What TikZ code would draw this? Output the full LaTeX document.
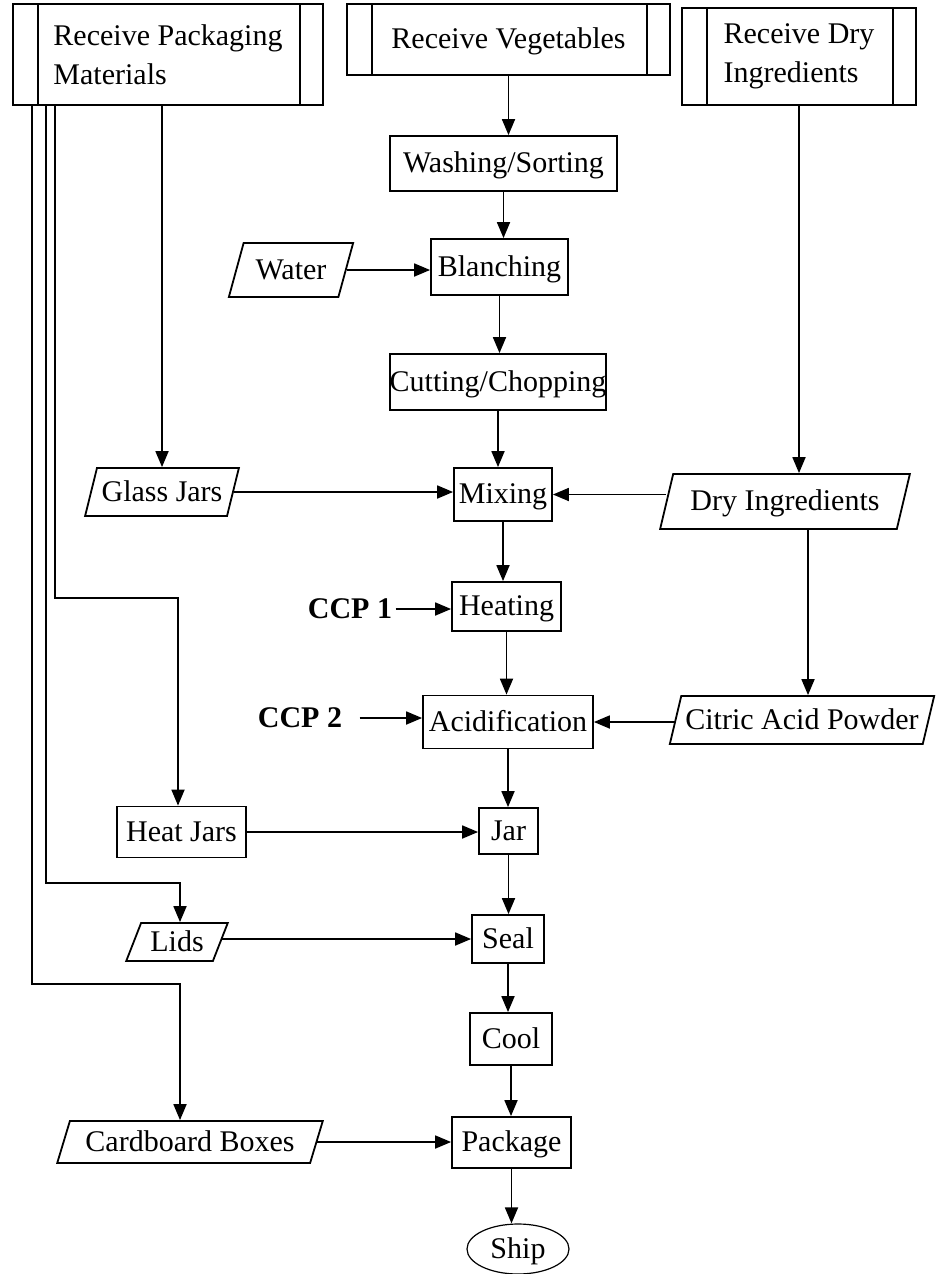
\documentclass[tikz,border=0pt]{standalone}
\usepackage{fontspec}
\setmainfont{Liberation Serif}
\usetikzlibrary{shapes.geometric,arrows.meta,calc}

\begin{document}
\begin{tikzpicture}[x=1pt,y=-1pt,
    font=\fontsize{30}{39}\selectfont,
    box/.style={draw, rectangle, inner sep=0pt, line width=1.8pt},
    one/.style={text height=22pt, text depth=4pt},
    data/.style={draw, trapezium, trapezium left angle=67, trapezium right angle=113,
        trapezium stretches=true, inner sep=0pt, line width=1.8pt, one},
    predef/.style={box, path picture={
        \draw[line width=1.8pt] ([xshift=25pt]path picture bounding box.north west) -- ([xshift=25pt]path picture bounding box.south west)
            ([xshift=-23pt]path picture bounding box.north east) -- ([xshift=-23pt]path picture bounding box.south east);}},
    arr/.style={-{Triangle[length=16pt,width=13pt]}, line width=1.8pt},
    ccp/.style={font=\fontsize{30}{39}\selectfont\bfseries}]

    \useasboundingbox (0,0) rectangle (935,1274);

    % sources
    \node[predef, minimum width=310, minimum height=101, align=left] (rpm) at (168,54.5) {Receive Packaging\\Materials};
    \node[predef, one, minimum width=323, minimum height=71] (rv) at (508.5,39.5) {Receive Vegetables};
    \node[predef, minimum width=234, minimum height=97, align=left] (rdi) at (799,56.5) {Receive Dry\\Ingredients};

    % main line
    \node[box, one, minimum width=227, minimum height=55] (wash) at (503.5,163.5) {Washing/Sorting};
    \node[box, one, minimum width=137, minimum height=56] (blanch) at (499.5,267) {Blanching};
    \node[box, one, minimum width=216, minimum height=56] (cut) at (498,382) {Cutting/Chopping};
    \node[box, one, minimum width=98, minimum height=53] (mix) at (503,494.5) {Mixing};
    \node[box, one, minimum width=109, minimum height=49] (heat) at (506.5,606.5) {Heating};
    \node[box, one, minimum width=170, minimum height=53] (acid) at (508,722) {Acidification};
    \node[box, one, minimum width=59, minimum height=46] (jar) at (508.5,831) {Jar};
    \node[box, one, minimum width=72, minimum height=48] (seal) at (508,939) {Seal};
    \node[box, one, minimum width=82, minimum height=52] (cool) at (511,1039) {Cool};
    \node[box, one, minimum width=119, minimum height=51] (pack) at (511.5,1142.5) {Package};
    \node[draw, ellipse, one, inner sep=0pt, line width=1.2pt, minimum width=102, minimum height=50] (ship) at (518,1249) {Ship};

    % inputs
    \node[data, minimum width=125, minimum height=54] (water) at (291,270) {Water};
    \node[data, minimum width=154, minimum height=48] (glass) at (162,492) {Glass Jars};
    \node[data, minimum width=250, minimum height=55] (dry) at (785,501.5) {Dry Ingredients};
    \node[data, minimum width=265, minimum height=48] (citric) at (802,720) {Citric Acid Powder};
    \node[box, one, minimum width=129, minimum height=51] (heatjars) at (181.5,832) {Heat Jars};
    \node[data, minimum width=102, minimum height=38] (lids) at (177,942) {Lids};
    \node[data, minimum width=266, minimum height=42] (boxes) at (190,1142) {Cardboard Boxes};

    \node[ccp] (ccp1) at (350,609) {CCP 1};
    \node[ccp] (ccp2) at (300,718) {CCP 2};

    % packaging branches
    \coordinate (la) at (32,105);
    \coordinate (lb) at (46,105);
    \coordinate (lc) at (55,105);
    \coordinate (hc) at (178,598);
    \coordinate (lic) at (180,883);
    \coordinate (bc) at (180,984);
    \coordinate (dc) at ($(dry.south)+(23,0)$);
    \coordinate (c2) at ($(ccp2.east)+(14,0)$);

    % connectors
    \draw[arr] (rv.south) -- (rv.south |- wash.north);
    \foreach \a/\b in {wash/blanch, blanch/cut, cut/mix, mix/heat, heat/acid, acid/jar, jar/seal, seal/cool, cool/pack, pack/ship}
        \draw[arr] (\a.south) -- (\a.south |- \b.north);

    \draw[arr] (water.east) -- (water.east -| blanch.west);
    \draw[arr] (glass.north |- rpm.south) -- (glass.north);
    \draw[arr] (glass.east) -- (glass.east -| mix.west);
    \draw[arr] (rdi.south) -- (rdi.south |- dry.north);
    \draw[arr] (dry.west |- mix.east) -- (mix.east);
    \draw[arr] (dc) -- (dc |- citric.north);
    \draw[arr] (citric.west |- acid.east) -- (acid.east);
    \draw[arr] (ccp1.east) -- (ccp1.east -| heat.west);
    \draw[arr] (c2) -- (c2 -| acid.west);

    \draw[arr] (lc) |- (hc) -- (hc |- heatjars.north);
    \draw[arr] (heatjars.east) -- (heatjars.east -| jar.west);
    \draw[arr] (lb) |- (lic) -- (lic |- lids.north);
    \draw[arr] (lids.east |- seal.west) -- (seal.west);
    \draw[arr] (la) |- (bc) -- (bc |- boxes.north);
    \draw[arr] (boxes.east) -- (boxes.east -| pack.west);
\end{tikzpicture}
\end{document}
